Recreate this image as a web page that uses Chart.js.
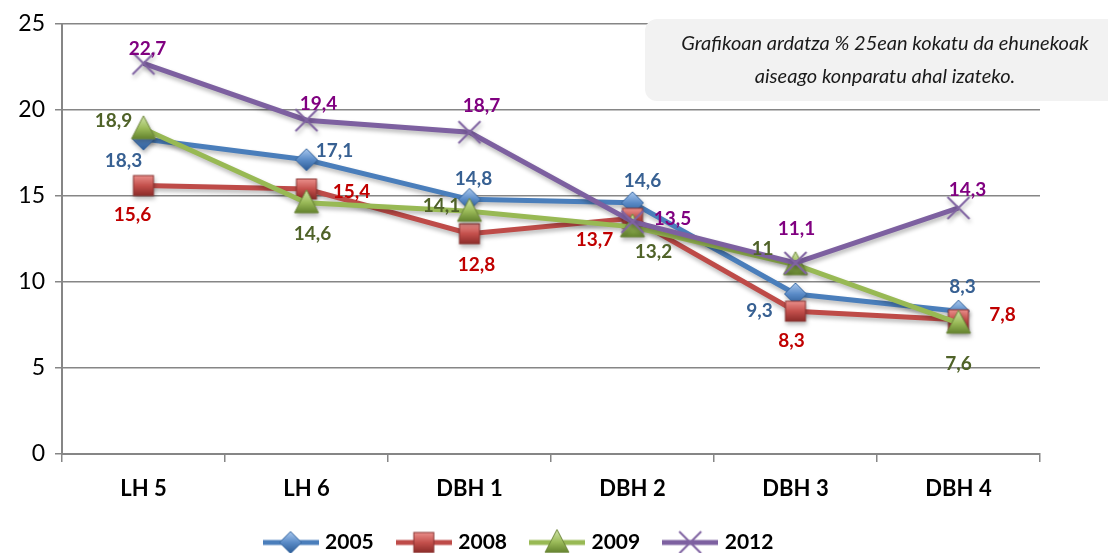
<!DOCTYPE html>
<html>
<head>
<meta charset="utf-8">
<script src="https://cdn.jsdelivr.net/npm/chart.js@4"></script>
<style>
html, body { margin: 0; padding: 0; background: #fff; }
</style>
</head>
<body>
<canvas id="chart" width="1108" height="553"></canvas>
<script>
// datuak
const categories = ['LH 5', 'LH 6', 'DBH 1', 'DBH 2', 'DBH 3', 'DBH 4'];
const years = ['2005', '2008', '2009', '2012'];
const values2005 = [18.3, 17.1, 14.8, 14.6, 9.3, 8.3];
const values2008 = [15.6, 15.4, 12.8, 13.7, 8.3, 7.8];
const values2009 = [18.9, 14.6, 14.1, 13.2, 11, 7.6];
const values2012 = [22.7, 19.4, 18.7, 13.5, 11.1, 14.3];
const yTicks = [0, 5, 10, 15, 20, 25];
const noteLines = ['Grafikoan ardatza % 25ean kokatu da ehunekoak', 'aiseago konparatu ahal izateko.'];

const seriesValues = [values2005, values2008, values2009, values2012];

// koloreak
const lineColors = ['#4a7ebb', '#be4b48', '#98b954', '#7d60a0'];
const labelColors = ['#376092', '#c00000', '#4f6228', '#800080'];

// etiketen desplazamendua puntuarekiko (px)
const labelOffsets = [
    [[-20, 22], [28, -9], [4, -20], [10, -22], [-36, 17], [4, -24]],
    [[-11, 29], [45, 3], [7, 31], [-38, 22], [-4, 30], [44, -5]],
    [[-30, -8], [6, 31], [-28, -5], [21, 25], [-33, -16], [0, 41]],
    [[4, -15], [12, -16], [12, -26], [40, -3], [1, -34], [9, -18]]
];

// markatzaileak
function drawMarker(c, kind, cx, cy) {
    let g;
    if (kind === 'diamond') {
        g = c.createLinearGradient(0, cy - 11, 0, cy + 11);
        g.addColorStop(0, '#a9c8ee');
        g.addColorStop(0.5, '#5a8bc7');
        g.addColorStop(1, '#2c5b95');
        c.beginPath();
        c.moveTo(cx, cy - 11); c.lineTo(cx + 11, cy); c.lineTo(cx, cy + 11); c.lineTo(cx - 11, cy);
        c.closePath();
        c.fillStyle = g; c.fill();
        c.strokeStyle = '#3b6aa3'; c.lineWidth = 1; c.stroke();
    } else if (kind === 'square') {
        g = c.createLinearGradient(0, cy - 10, 0, cy + 10);
        g.addColorStop(0, '#ea8f8b');
        g.addColorStop(0.5, '#c4504c');
        g.addColorStop(1, '#8c2c29');
        c.fillStyle = g;
        c.fillRect(cx - 10, cy - 10, 20, 20);
        c.strokeStyle = '#8a3532'; c.lineWidth = 1;
        c.strokeRect(cx - 10, cy - 10, 20, 20);
    } else if (kind === 'triangle') {
        g = c.createLinearGradient(0, cy - 12, 0, cy + 11);
        g.addColorStop(0, '#cde2a4');
        g.addColorStop(0.5, '#9bbb59');
        g.addColorStop(1, '#5e7d2a');
        c.beginPath();
        c.moveTo(cx, cy - 13); c.lineTo(cx + 12, cy + 10); c.lineTo(cx - 12, cy + 10);
        c.closePath();
        c.fillStyle = g; c.fill();
        c.strokeStyle = '#6f883d'; c.lineWidth = 1; c.stroke();
    } else {
        c.beginPath();
        c.moveTo(cx - 11, cy - 11); c.lineTo(cx + 11, cy + 11);
        c.moveTo(cx + 11, cy - 11); c.lineTo(cx - 11, cy + 11);
        c.strokeStyle = '#8064a2'; c.lineWidth = 2; c.stroke();
    }
}

const markerKinds = ['diamond', 'square', 'triangle', 'cross'];

function makeMarker(kind) {
    const cv = document.createElement('canvas');
    cv.width = 28; cv.height = 28;
    drawMarker(cv.getContext('2d'), kind, 14, 14);
    return cv;
}

function makeLegendIcon(kind, color) {
    const cv = document.createElement('canvas');
    cv.width = 56; cv.height = 28;
    const c = cv.getContext('2d');
    c.strokeStyle = color; c.lineWidth = 5;
    c.beginPath(); c.moveTo(0, 14); c.lineTo(56, 14); c.stroke();
    drawMarker(c, kind, 28, 14);
    return cv;
}

const markers = markerKinds.map(k => makeMarker(k));
const legendIcons = markerKinds.map((k, i) => makeLegendIcon(k, lineColors[i]));

function formatValue(v) {
    return String(v).replace('.', ',');
}

// lerroen itzala
const lineShadow = {
    id: 'lineShadow',
    beforeDatasetsDraw(chart) {
        const c = chart.ctx;
        c.save();
        c.shadowColor = 'rgba(0,0,0,0.28)';
        c.shadowBlur = 4;
        c.shadowOffsetX = 1;
        c.shadowOffsetY = 3;
    },
    afterDatasetsDraw(chart) {
        chart.ctx.restore();
    }
};

// balioen etiketak
const valueLabels = {
    id: 'valueLabels',
    afterDatasetsDraw(chart) {
        const c = chart.ctx;
        c.save();
        c.font = 'bold 19px Lato';
        c.textAlign = 'center';
        c.textBaseline = 'middle';
        chart.data.datasets.forEach((ds, i) => {
            const meta = chart.getDatasetMeta(i);
            meta.data.forEach((pt, j) => {
                const off = labelOffsets[i][j];
                c.fillStyle = labelColors[i];
                c.fillText(formatValue(ds.data[j]), pt.x + off[0], pt.y + off[1]);
            });
        });
        c.restore();
    }
};

// oharraren laukia
const noteBox = {
    id: 'noteBox',
    afterDraw(chart) {
        const c = chart.ctx;
        c.save();
        c.fillStyle = '#f2f2f2';
        c.beginPath();
        c.roundRect(645, 19, 480, 82, 12);
        c.fill();
        c.fillStyle = '#1a1a1a';
        c.font = 'italic 20px Lato';
        c.textAlign = 'center';
        c.textBaseline = 'middle';
        c.fillText(noteLines[0], 885, 44);
        c.fillText(noteLines[1], 885, 77);
        c.restore();
    }
};

const ctx = document.getElementById('chart').getContext('2d');
new Chart(ctx, {
    type: 'line',
    data: {
        labels: categories,
        datasets: years.map((y, i) => ({
            label: y,
            data: seriesValues[i],
            borderColor: lineColors[i],
            backgroundColor: lineColors[i],
            borderWidth: 5,
            pointStyle: markers[i],
            pointRadius: 10,
            pointHoverRadius: 10,
            tension: 0,
            order: 4 - i,
            clip: false
        }))
    },
    options: {
        responsive: false,
        animation: false,
        devicePixelRatio: 1,
        layout: { padding: { top: 21, right: 68, left: 0, bottom: -10 } },
        plugins: {
            tooltip: { enabled: false },
            legend: {
                position: 'bottom',
                labels: {
                    usePointStyle: true,
                    pointStyleWidth: 48,
                    padding: 26,
                    color: '#000',
                    font: { family: 'Lato', size: 21, weight: 'bold' },
                    generateLabels: chart => chart.data.datasets.map((ds, i) => ({
                        text: ds.label,
                        pointStyle: legendIcons[i],
                        fillStyle: lineColors[i],
                        strokeStyle: lineColors[i],
                        lineWidth: 0,
                        hidden: false,
                        datasetIndex: i,
                        fontColor: '#000'
                    }))
                }
            }
        },
        scales: {
            x: {
                offset: true,
                grid: { offset: true, drawOnChartArea: false, drawTicks: true, tickLength: 8, color: '#868686', lineWidth: 1.5 },
                border: { color: '#868686', width: 2 },
                ticks: { color: '#000', padding: 14, maxRotation: 0, font: { family: 'Lato', size: 22, weight: 'bold' } },
                afterFit: s => { s.height = 52; }
            },
            y: {
                min: 0,
                max: 25,
                afterBuildTicks: s => { s.ticks = yTicks.map(v => ({ value: v })); },
                grid: { color: '#868686', lineWidth: 1.5, tickLength: 7 },
                border: { color: '#868686', width: 2 },
                ticks: { color: '#000', padding: 10, font: { family: 'Lato', size: 23 } },
                afterFit: s => { s.width = 62; }
            }
        }
    },
    plugins: [lineShadow, valueLabels, noteBox]
});
</script>
</body>
</html>
